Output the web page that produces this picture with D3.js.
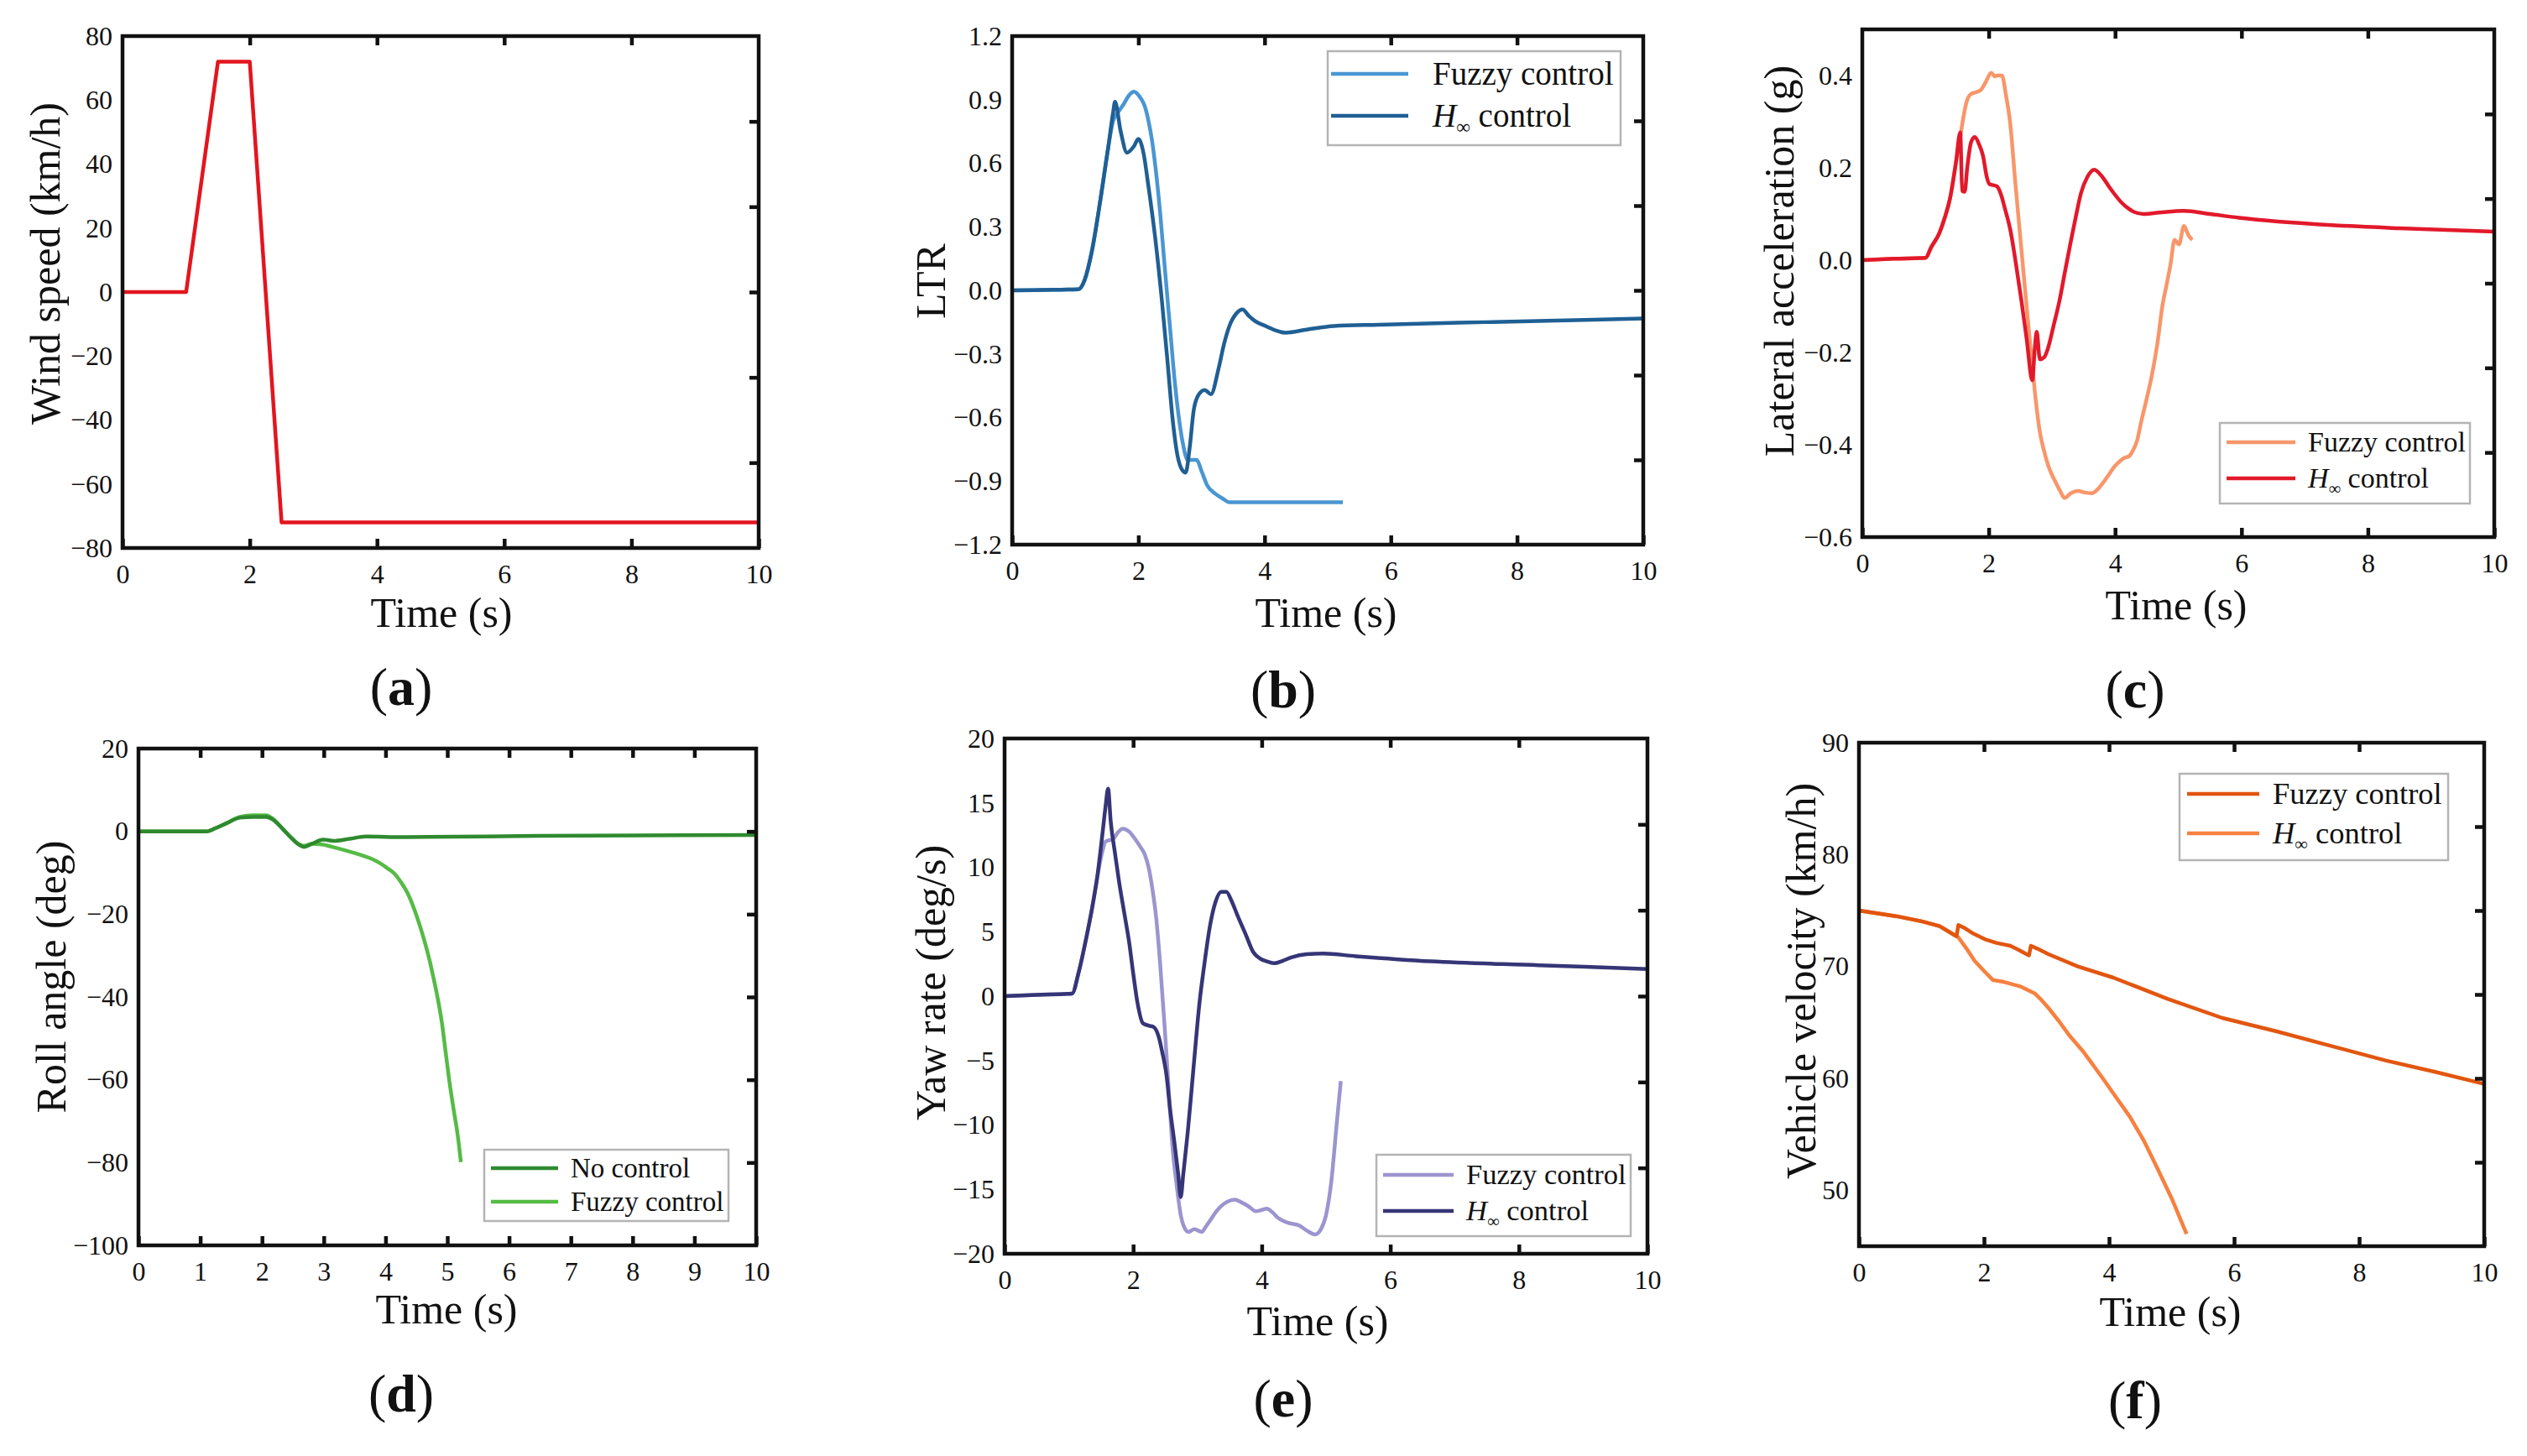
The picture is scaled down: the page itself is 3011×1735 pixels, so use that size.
<!DOCTYPE html>
<html>
<head>
<meta charset="utf-8">
<script src="https://cdn.jsdelivr.net/npm/d3@7"></script>
<style>
  body { margin: 0; background: #fff; }
  text { font-family: "Liberation Serif", "Times New Roman", serif; fill: #111; }
</style>
</head>
<body>
<div id="graphic"></div>
<script>
// ---- data: [time (s), value] ----
const windSpeed = [[0,0],[1,0],[1.5,72],[2,72],[2.5,-72],[10,-72]];

const ltrFuzzy = [[0,0],[0.5,0.002],[1.05,0.005],[1.15,0.05],[1.26,0.18],[1.4,0.43],[1.52,0.67],[1.6,0.8],[1.69,0.845],
  [1.77,0.88],[1.85,0.92],[1.93,0.938],[2.03,0.91],[2.1,0.87],[2.16,0.8],[2.22,0.7],[2.28,0.557],[2.35,0.35],[2.41,0.137],
  [2.5,-0.17],[2.58,-0.44],[2.65,-0.62],[2.71,-0.73],[2.78,-0.8],[2.85,-0.8],[2.92,-0.8],[3.01,-0.86],[3.09,-0.92],
  [3.22,-0.96],[3.35,-0.985],[3.44,-1.0],[5.24,-1.0]];
const ltrHinf = [[0,0],[0.5,0.002],[1.05,0.005],[1.15,0.05],[1.26,0.18],[1.4,0.43],[1.52,0.67],[1.6,0.84],[1.63,0.89],
  [1.72,0.75],[1.82,0.65],[1.93,0.68],[2.0,0.715],[2.08,0.65],[2.16,0.49],[2.27,0.24],[2.37,-0.04],[2.46,-0.33],
  [2.54,-0.6],[2.62,-0.78],[2.7,-0.85],[2.75,-0.86],[2.81,-0.75],[2.88,-0.56],[2.96,-0.49],[3.05,-0.47],[3.15,-0.49],
  [3.27,-0.37],[3.36,-0.25],[3.44,-0.17],[3.55,-0.11],[3.65,-0.09],[3.75,-0.12],[3.85,-0.145],[4.03,-0.17],[4.18,-0.19],
  [4.33,-0.2],[4.67,-0.185],[5.1,-0.168],[5.8,-0.162],[7.5,-0.15],[10,-0.133]];

const latFuzzy = [[0,0],[0.5,0.003],[1.0,0.005],[1.09,0.028],[1.22,0.059],[1.3,0.09],[1.39,0.135],[1.48,0.21],[1.55,0.267],
  [1.6,0.31],[1.65,0.343],[1.72,0.36],[1.78,0.363],[1.87,0.368],[1.95,0.385],[2.04,0.406],[2.1,0.398],[2.13,0.4],[2.21,0.4],
  [2.27,0.36],[2.34,0.297],[2.42,0.17],[2.51,0.034],[2.6,-0.1],[2.69,-0.23],[2.75,-0.31],[2.81,-0.373],[2.87,-0.41],
  [2.94,-0.444],[3.0,-0.465],[3.07,-0.484],[3.13,-0.5],[3.2,-0.515],[3.3,-0.505],[3.42,-0.5],[3.5,-0.503],[3.63,-0.505],
  [3.72,-0.497],[3.8,-0.484],[3.9,-0.465],[3.98,-0.449],[4.08,-0.435],[4.15,-0.428],[4.22,-0.425],[4.28,-0.413],
  [4.35,-0.39],[4.41,-0.352],[4.5,-0.3],[4.58,-0.251],[4.67,-0.18],[4.75,-0.098],[4.82,-0.05],[4.88,-0.007],[4.94,0.044],
  [5.01,0.034],[5.09,0.074],[5.16,0.054],[5.22,0.044]];
const latHinf = [[0,0],[0.5,0.003],[1.0,0.005],[1.09,0.028],[1.22,0.059],[1.3,0.09],[1.39,0.135],[1.48,0.21],[1.55,0.277],
  [1.58,0.15],[1.62,0.148],[1.66,0.2],[1.72,0.255],[1.78,0.267],[1.85,0.25],[1.91,0.226],[1.97,0.18],[2.01,0.165],
  [2.13,0.16],[2.2,0.14],[2.25,0.115],[2.35,0.06],[2.43,-0.007],[2.52,-0.09],[2.6,-0.17],[2.69,-0.26],[2.73,-0.19],
  [2.76,-0.155],[2.81,-0.215],[2.88,-0.21],[2.94,-0.19],[3.03,-0.14],[3.12,-0.088],[3.2,-0.03],[3.29,0.034],[3.38,0.095],
  [3.46,0.145],[3.56,0.18],[3.67,0.196],[3.8,0.18],[3.9,0.16],[3.98,0.145],[4.1,0.125],[4.23,0.11],[4.45,0.1],
  [4.7,0.103],[5.09,0.107],[5.5,0.1],[5.96,0.092],[7.42,0.076],[8.5,0.069],[10,0.062]];

const rollNone = [[0,0],[0.5,0],[1.1,0],[1.25,0.8],[1.42,1.93],[1.64,3.3],[1.86,3.5],[2.07,3.5],[2.17,2.9],[2.25,1.9],
  [2.36,0.2],[2.47,-1.5],[2.58,-3.0],[2.68,-3.75],[2.81,-3.0],[2.99,-2.0],[3.16,-2.3],[3.42,-1.8],[3.68,-1.25],
  [4.29,-1.4],[6.47,-1.1],[10,-0.9]];
const rollFuzzy = [[0,0],[0.5,0],[1.1,0],[1.25,0.8],[1.42,1.93],[1.64,3.5],[1.86,3.9],[2.07,3.9],[2.17,3.1],[2.25,2.0],
  [2.36,0.2],[2.47,-1.5],[2.58,-3.0],[2.68,-3.5],[2.81,-3.0],[2.99,-3.2],[3.2,-4.0],[3.42,-4.9],[3.6,-5.7],[3.77,-6.6],
  [3.9,-7.6],[4.03,-8.9],[4.15,-10.3],[4.25,-12.3],[4.36,-15],[4.47,-19],[4.56,-23],[4.64,-27],[4.71,-31],[4.77,-35],
  [4.84,-40],[4.91,-46],[4.97,-53],[5.03,-60],[5.1,-67],[5.17,-73.6],[5.22,-79.9]];

const yawFuzzy = [[0,0],[0.5,0.1],[1.05,0.2],[1.15,1.8],[1.27,4.5],[1.36,6.8],[1.44,9.2],[1.52,11.2],[1.57,12.0],
  [1.69,12.2],[1.76,12.7],[1.84,13.0],[1.93,12.8],[2.03,12.2],[2.11,11.6],[2.18,11.0],[2.24,10.0],[2.3,8.3],[2.36,6.0],
  [2.42,2.5],[2.49,-2.4],[2.55,-7.0],[2.61,-11.6],[2.68,-14.8],[2.74,-17.0],[2.8,-18.0],[2.86,-18.3],[2.95,-18.1],
  [3.07,-18.3],[3.13,-17.9],[3.2,-17.4],[3.28,-16.8],[3.37,-16.3],[3.47,-15.95],[3.58,-15.8],[3.68,-16.0],[3.79,-16.3],
  [3.91,-16.7],[4.0,-16.6],[4.08,-16.5],[4.17,-16.8],[4.25,-17.2],[4.41,-17.6],[4.58,-17.8],[4.7,-18.2],[4.83,-18.5],
  [4.92,-18.1],[5.0,-17.0],[5.08,-14.5],[5.17,-9.7],[5.23,-6.6]];
const yawHinf = [[0,0],[0.5,0.1],[1.05,0.2],[1.15,1.8],[1.27,4.5],[1.36,6.8],[1.44,9.2],[1.52,12.5],[1.57,14.7],
  [1.61,16.1],[1.65,13.6],[1.72,11.0],[1.78,8.9],[1.86,6.5],[1.94,4.1],[2.0,1.8],[2.07,-0.6],[2.15,-2.1],[2.25,-2.3],
  [2.32,-2.4],[2.4,-3.2],[2.45,-4.3],[2.52,-6.2],[2.57,-8.6],[2.64,-11.3],[2.7,-13.8],[2.74,-15.6],[2.78,-13.8],
  [2.85,-10.5],[2.91,-7.2],[2.97,-3.8],[3.03,-0.6],[3.1,2.2],[3.2,5.6],[3.28,7.3],[3.37,8.1],[3.45,8.1],[3.53,7.4],
  [3.62,6.3],[3.75,4.8],[3.87,3.4],[3.98,2.9],[4.08,2.7],[4.2,2.55],[4.33,2.75],[4.46,3.0],[4.7,3.25],[4.96,3.3],
  [5.46,3.1],[6.63,2.7],[8.31,2.4],[10,2.1]];

const velFuzzy = [[0,75],[0.59,74.5],[1.03,74.0],[1.29,73.6],[1.5,72.9],[1.56,72.7],[1.59,73.7],[1.7,73.4],[1.81,73.0],
  [2.03,72.4],[2.2,72.1],[2.42,71.85],[2.55,71.5],[2.68,71.1],[2.72,71.0],[2.75,71.85],[2.85,71.6],[3.03,71.1],
  [3.5,70.0],[4.07,69.0],[4.94,67.1],[5.81,65.4],[6.68,64.2],[7.55,62.9],[8.42,61.6],[9.2,60.6],[10,59.5]];
const velHinf = [[0,75],[0.59,74.5],[1.03,74.0],[1.29,73.6],[1.5,72.9],[1.59,72.6],[1.72,71.6],[1.85,70.5],[2.0,69.6],
  [2.14,68.8],[2.33,68.6],[2.59,68.2],[2.81,67.6],[2.92,67.0],[3.03,66.3],[3.2,65.1],[3.37,63.8],[3.6,62.3],[3.9,60.0],
  [4.1,58.4],[4.33,56.6],[4.55,54.5],[4.77,52.0],[5.0,49.3],[5.24,46.1]];

// tick values
const timeTicks = [0, 2, 4, 6, 8, 10];
const timeTicksFine = [0, 1, 2, 3, 4, 5, 6, 7, 8, 9, 10];
const windTicks = [-80, -60, -40, -20, 0, 20, 40, 60, 80];
const ltrTicks = [-1.2, -0.9, -0.6, -0.3, 0, 0.3, 0.6, 0.9, 1.2];
const latTicks = [-0.6, -0.4, -0.2, 0, 0.2, 0.4];
const rollTicks = [-100, -80, -60, -40, -20, 0, 20];
const yawTicks = [-20, -15, -10, -5, 0, 5, 10, 15, 20];
const velTicks = [50, 60, 70, 80, 90];

const panels = [
  { tag: 'a', box: {l: 146, r: 904, t: 43, b: 653}, xTicks: timeTicks, yDomain: [-80, 80], yTicks: windTicks, yFmt: 'd',
    yLabel: 'Wind speed (km/h)', yLabelPos: [54, 314], timePos: [526, 731], tagPos: [478, 820], curve: d3.curveLinear,
    series: [{data: windSpeed, color: '#e3151e'}] },
  { tag: 'b', box: {l: 1206, r: 1958, t: 43, b: 649}, xTicks: timeTicks, yDomain: [-1.2, 1.2], yTicks: ltrTicks, yFmt: '.1f',
    yLabel: 'LTR', yLabelPos: [1109, 335], timePos: [1580, 731], tagPos: [1529, 823], curve: d3.curveMonotoneX,
    series: [{data: ltrFuzzy, color: '#4a96d2', name: 'Fuzzy control'}, {data: ltrHinf, color: '#1f5f94', name: 'H'}],
    legend: {box: [1582, 61, 1931, 173], line: [1586, 1678], text: 1707, rows: [88, 138], font: 39} },
  { tag: 'c', box: {l: 2219, r: 2972, t: 35, b: 640}, xTicks: timeTicks, yDomain: [-0.6, 0.5], yTicks: latTicks, yFmt: '.1f',
    yLabel: 'Lateral acceleration (g)', yLabelPos: [2120, 311], timePos: [2593, 722], tagPos: [2544, 823], curve: d3.curveMonotoneX,
    series: [{data: latFuzzy, color: '#f8966a', name: 'Fuzzy control'}, {data: latHinf, color: '#e2192b', name: 'H'}],
    legend: {box: [2645, 504, 2943, 600], line: [2653, 2735], text: 2750, rows: [527, 570], font: 34} },
  { tag: 'd', box: {l: 165, r: 901, t: 892, b: 1484}, xTicks: timeTicksFine, yDomain: [-100, 20], yTicks: rollTicks, yFmt: 'd',
    yLabel: 'Roll angle (deg)', yLabelPos: [61, 1164], timePos: [532, 1561], tagPos: [478, 1662], curve: d3.curveMonotoneX,
    series: [{data: rollFuzzy, color: '#55bb45', name: 'Fuzzy control'}, {data: rollNone, color: '#2f8a2f', name: 'No control'}],
    legendOrder: [1, 0],
    legend: {box: [577, 1370, 868, 1455], line: [585, 665], text: 680, rows: [1392, 1432], font: 33} },
  { tag: 'e', box: {l: 1197, r: 1963, t: 880, b: 1494}, xTicks: timeTicks, yDomain: [-20, 20], yTicks: yawTicks, yFmt: 'd',
    yLabel: 'Yaw rate (deg/s)', yLabelPos: [1109, 1171], timePos: [1570, 1575], tagPos: [1529, 1668], curve: d3.curveMonotoneX,
    series: [{data: yawFuzzy, color: '#9b95cf', name: 'Fuzzy control'}, {data: yawHinf, color: '#353577', name: 'H'}],
    legend: {box: [1640, 1376, 1943, 1473], line: [1648, 1732], text: 1747, rows: [1400, 1443], font: 34.5} },
  { tag: 'f', box: {l: 2215, r: 2960, t: 885, b: 1485}, xTicks: timeTicks, yDomain: [45, 90], yTicks: velTicks, yFmt: 'd',
    yLabel: 'Vehicle velocity (km/h)', yLabelPos: [2146, 1169], timePos: [2586, 1564], tagPos: [2544, 1670], curve: d3.curveLinear,
    series: [{data: velHinf, color: '#f7803f', name: 'H'}, {data: velFuzzy, color: '#e2560f', name: 'Fuzzy control'}],
    legendOrder: [1, 0],
    legend: {box: [2597, 922, 2917, 1025], line: [2606, 2692], text: 2708, rows: [946, 993], font: 36.5} }
];

const svg = d3.select('#graphic').append('svg')
  .attr('width', 3011).attr('height', 1735)
  .style('display', 'block');
svg.append('rect').attr('width', 3011).attr('height', 1735).attr('fill', '#fff');

const tickFont = 32, titleFont = 50, axisW = 4.5, lineW = 4.5, tickLen = 11;

function drawPanel(p) {
  const b = p.box;
  const x = d3.scaleLinear().domain([0, 10]).range([b.l, b.r]);
  const y = d3.scaleLinear().domain(p.yDomain).range([b.b, b.t]);
  const g = svg.append('g').attr('class', 'panel-' + p.tag);

  // data lines
  const line = d3.line().x(d => x(d[0])).y(d => y(d[1])).curve(p.curve);
  g.append('g').selectAll('path')
    .data(p.series)
    .join('path')
    .attr('d', s => line(s.data))
    .attr('fill', 'none')
    .attr('stroke', s => s.color)
    .attr('stroke-width', lineW)
    .attr('stroke-linejoin', 'round');

  // bottom axis, ticks pointing in
  const xAxis = g.append('g')
    .attr('transform', 'translate(0,' + b.b + ')')
    .call(d3.axisBottom(x).tickValues(p.xTicks).tickSize(-tickLen).tickPadding(19).tickFormat(d3.format('d')));
  // left axis, labels only
  const yAxis = g.append('g')
    .attr('transform', 'translate(' + b.l + ',0)')
    .call(d3.axisLeft(y).tickValues(p.yTicks).tickSize(0).tickPadding(12).tickFormat(d3.format(p.yFmt)));
  // top axis, inner ticks at the same places as the bottom ones
  const inner = p.xTicks.slice(1, -1);
  const xTop = g.append('g')
    .attr('transform', 'translate(0,' + b.t + ')')
    .call(d3.axisTop(x).tickValues(inner).tickSize(-tickLen).tickFormat(''));
  // right axis: six equal divisions of the frame
  const yr = p.yDomain[0], span = p.yDomain[1] - p.yDomain[0];
  const rightVals = [1, 2, 3, 4, 5].map(k => yr + span * k / 6);
  const yRight = g.append('g')
    .attr('transform', 'translate(' + b.r + ',0)')
    .call(d3.axisRight(y).tickValues(rightVals).tickSize(-tickLen).tickFormat(''));

  [xAxis, yAxis, xTop, yRight].forEach(a => {
    a.select('.domain').remove();
    a.selectAll('line').attr('stroke', '#111').attr('stroke-width', axisW);
    a.selectAll('text').style('font-size', tickFont + 'px').attr('fill', '#111')
      .style('font-family', '"Liberation Serif", serif');
  });

  // frame
  g.append('rect')
    .attr('x', b.l).attr('y', b.t)
    .attr('width', b.r - b.l).attr('height', b.b - b.t)
    .attr('fill', 'none').attr('stroke', '#111').attr('stroke-width', axisW);

  // axis titles
  g.append('text')
    .attr('transform', 'translate(' + p.yLabelPos[0] + ',' + p.yLabelPos[1] + ') rotate(-90)')
    .attr('text-anchor', 'middle').attr('dominant-baseline', 'central')
    .style('font-size', titleFont + 'px')
    .text(p.yLabel);
  g.append('text')
    .attr('x', p.timePos[0]).attr('y', p.timePos[1] + 16)
    .attr('text-anchor', 'middle')
    .style('font-size', titleFont + 'px')
    .text('Time (s)');

  // panel tag
  const t = g.append('text')
    .attr('x', p.tagPos[0]).attr('y', p.tagPos[1] + 20)
    .attr('text-anchor', 'middle')
    .style('font-size', '64px');
  t.append('tspan').text('(');
  t.append('tspan').style('font-weight', 'bold').text(p.tag);
  t.append('tspan').text(')');

  // legend
  if (p.legend) {
    const L = p.legend;
    g.append('rect')
      .attr('x', L.box[0]).attr('y', L.box[1])
      .attr('width', L.box[2] - L.box[0]).attr('height', L.box[3] - L.box[1])
      .attr('fill', '#fff').attr('stroke', '#b4b4b4').attr('stroke-width', 2.5);
    const order = p.legendOrder || [0, 1];
    order.forEach((si, row) => {
      const s = p.series[si];
      const yy = L.rows[row];
      g.append('line')
        .attr('x1', L.line[0]).attr('x2', L.line[1])
        .attr('y1', yy).attr('y2', yy)
        .attr('stroke', s.color).attr('stroke-width', lineW);
      const tx = g.append('text')
        .attr('x', L.text).attr('y', yy + L.font * 0.33)
        .style('font-size', L.font + 'px');
      if (s.name === 'H') {
        tx.append('tspan').style('font-style', 'italic').text('H');
        tx.append('tspan').attr('dy', L.font * 0.22).style('font-size', (L.font * 0.6) + 'px').text('\u221e');
        tx.append('tspan').attr('dy', -L.font * 0.22).text(' control');
      } else {
        tx.text(s.name);
      }
    });
  }
}

panels.forEach(drawPanel);
</script>
</body>
</html>
